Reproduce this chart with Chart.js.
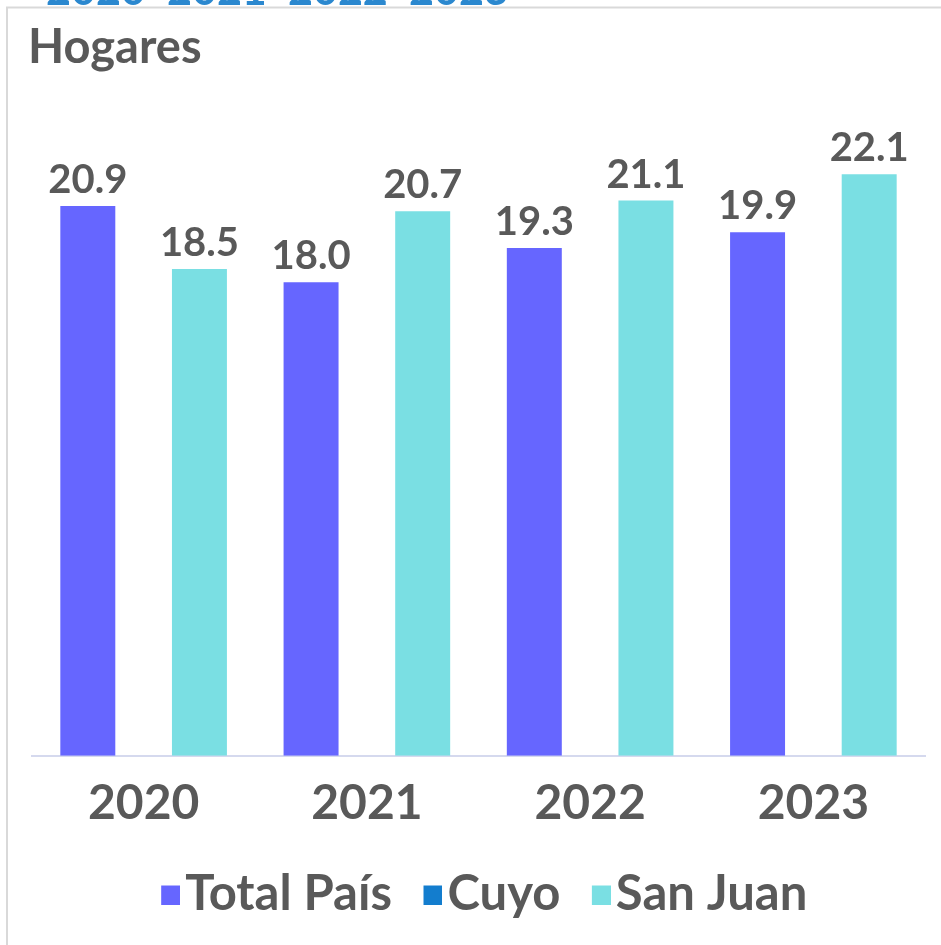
<!DOCTYPE html>
<html>
<head>
<meta charset="utf-8">
<script src="https://cdn.jsdelivr.net/npm/chart.js@4.4.1/dist/chart.umd.min.js"></script>
<style>
  html, body { margin: 0; padding: 0; background: #fff; }
  canvas { display: block; }
</style>
</head>
<body>
<canvas id="c" width="941" height="945"></canvas>
<script>
// Categories and series
const years = ['2020', '2021', '2022', '2023'];
const seriesNames = ['Total País', 'Cuyo', 'San Juan'];
const totalPais = [20.9, 18.0, 19.3, 19.9];
const cuyo = [null, null, null, null];
const sanJuan = [18.5, 20.7, 21.1, 22.1];
const subtitle = 'Hogares';

const seriesColors = ['#6666FF', '#137DCE', '#7ADFE3'];
const FONT = 'Lato, "Open Sans", sans-serif';
const GREY = '#595959';
const LEGEND_SIZE = 49;

// Legend swatch: a small square sitting close to its label text
function legendSwatch(color) {
  const half = LEGEND_SIZE / 2;
  const w = Math.round(2 * (0.5 + half - 5));
  const c = document.createElement('canvas');
  c.width = w; c.height = 20;
  const g = c.getContext('2d');
  g.fillStyle = color;
  g.fillRect(w - 19, 1, 19, 19);
  return c;
}

// Frame, year header and subtitle
const frame = {
  id: 'frame',
  afterLayout(chart) {
    // nudge the legend row slightly right and up
    const lg = chart.legend;
    lg.left += 5;
    lg.right += 5;
    lg.top -= 3;
    lg.bottom -= 3;
  },
  beforeDraw(chart) {
    const ctx = chart.ctx;
    ctx.save();
    ctx.fillStyle = '#fff';
    ctx.fillRect(0, 0, chart.width, chart.height);
    ctx.strokeStyle = '#D9D9D9';
    ctx.lineWidth = 2;
    ctx.beginPath();
    ctx.moveTo(7, chart.height);
    ctx.lineTo(7, 7.5);
    ctx.lineTo(chart.width, 7.5);
    ctx.stroke();

    ctx.textBaseline = 'alphabetic';
    ctx.textAlign = 'left';
    ctx.fillStyle = '#2B88CF';
    ctx.font = 'bold 43px ' + FONT;
    years.forEach((y, i) => ctx.fillText(y, 46 + i * 121, 5));

    ctx.fillStyle = GREY;
    ctx.font = 'bold 47px ' + FONT;
    ctx.fillText(subtitle, 28, 63);
    ctx.restore();
  }
};

// Value labels above each bar
const valueLabels = {
  id: 'valueLabels',
  afterDatasetsDraw(chart) {
    const ctx = chart.ctx;
    ctx.save();
    ctx.font = 'bold 40px ' + FONT;
    ctx.fillStyle = GREY;
    ctx.textAlign = 'center';
    ctx.textBaseline = 'alphabetic';
    chart.data.datasets.forEach((ds, di) => {
      const meta = chart.getDatasetMeta(di);
      meta.data.forEach((bar, i) => {
        const v = ds.data[i];
        if (v == null) return;
        ctx.fillText(v.toFixed(1), bar.x, bar.y - 13);
      });
    });
    ctx.restore();
  }
};

new Chart(document.getElementById('c'), {
  type: 'bar',
  data: {
    labels: years,
    datasets: [
      { label: seriesNames[0], data: totalPais, backgroundColor: seriesColors[0] },
      { label: seriesNames[1], data: cuyo, backgroundColor: seriesColors[1] },
      { label: seriesNames[2], data: sanJuan, backgroundColor: seriesColors[2] }
    ]
  },
  options: {
    responsive: false,
    animation: false,
    devicePixelRatio: 1,
    layout: { padding: { top: 98, left: 32, right: 16, bottom: 13 } },
    datasets: { bar: { categoryPercentage: 0.75, barPercentage: 0.985 } },
    scales: {
      y: { display: false, min: 0, max: 25 },
      x: {
        grid: { display: false },
        border: { display: true, color: '#D5D9EE', width: 2 },
        ticks: { color: GREY, font: { family: FONT, size: 48, weight: 'bold', lineHeight: 0.9 }, padding: 18 }
      }
    },
    plugins: {
      legend: {
        position: 'bottom',
        labels: {
          usePointStyle: true,
          pointStyleWidth: 1,
          color: GREY,
          font: { family: FONT, size: LEGEND_SIZE, weight: 'bold' },
          padding: 30,
          generateLabels(chart) {
            const items = Chart.defaults.plugins.legend.labels.generateLabels(chart);
            items.forEach(it => { it.pointStyle = legendSwatch(seriesColors[it.datasetIndex]); });
            return items;
          }
        }
      },
      tooltip: { enabled: false }
    }
  },
  plugins: [frame, valueLabels]
});
</script>
</body>
</html>
